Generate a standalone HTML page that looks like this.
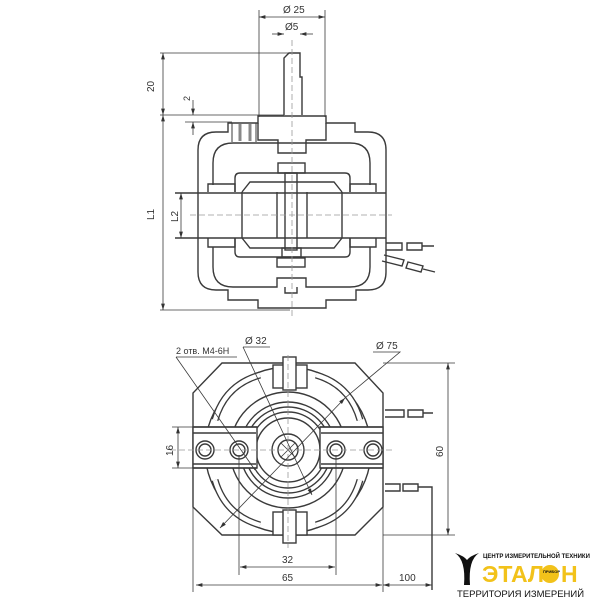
<!DOCTYPE html>
<html><head><meta charset="utf-8"><style>
html,body{margin:0;padding:0;background:#fff;width:600px;height:600px;overflow:hidden}
svg{display:block}
text{font-family:"Liberation Sans",sans-serif;fill:#333}
</style></head><body>
<svg width="600" height="600" viewBox="0 0 600 600">
<defs>
<marker id="a" viewBox="0 0 10 6" refX="10" refY="3" markerWidth="8" markerHeight="5" orient="auto-start-reverse"><path d="M0,0 L10,3 L0,6z" fill="#333"/></marker>
</defs>
<g fill="none" stroke="#3a3a3a" stroke-width="1.4">
<!-- TOP VIEW -->
<path d="M284,115 V58 L289,53 H300 V77 H302 V115"/>
<path d="M198,150 Q198,132 216,132 H228 V123 H258 V116 H326 V123 H355 V132 H368 Q386,132 386,150 V272 Q386,290 368,290 H356 V300 H326 V308 H258 V300 H228 V290 H216 Q198,290 198,272 Z"/>
<path d="M258,123 V140 H278 V153 H306 V140 H326 V123"/>
<path d="M232,123 V142 M256,123 V142" stroke-width="1"/>
<path d="M240,124 V141 M250,124 V141" stroke="#888" stroke-width="3"/>
<path d="M213,185 V163 Q213,143 233,143 H350 Q370,143 370,163 V185"/>
<path d="M213,247 V267 Q213,287 233,287 H277 V278 H306 V287 H350 Q370,287 370,267 V247"/>
<path d="M285,287 V293 H297 V287"/>
<path d="M208,192 V184 H235 V192 M350,192 V184 H376 V192"/>
<path d="M208,238 V247 H235 V238 M350,238 V247 H376 V238"/>
<path d="M235,192 V178 Q235,173 240,173 H345 Q350,173 350,178 V192"/>
<path d="M235,238 V252 Q235,257 240,257 H345 Q350,257 350,252 V238"/>
<path d="M242,192 L250,182 H334 L342,192 M242,238 L250,248 H334 L342,238"/>
<path d="M242,192 V238 M342,192 V238"/>
<path d="M175,193 H386 M175,238 H386"/>
<path d="M277,192 V238 M307,192 V238"/>
<rect x="278" y="163" width="27" height="10"/>
<rect x="285" y="173" width="12" height="77"/>
<rect x="282" y="248" width="19" height="9"/>
<rect x="277" y="258" width="28" height="9"/>
<path d="M386,243 H402 V250 H386 M407,243 H422 V250 H407 Z M422,246 H434"/>
<path d="M384,255 L404,260 L402,266 L382,261 M408,262 L423,266 L421,272 L406,268 Z M423,269 L435,272"/>
<g stroke-width="0.8">
<path d="M259,10 V117 M325,10 V117"/>
<path d="M259,17 H325" marker-start="url(#a)" marker-end="url(#a)"/>
<path d="M272,34 H284" marker-end="url(#a)"/><path d="M313,34 H300" marker-end="url(#a)"/>
<path d="M160,53 H289 M160,115 H284 M185,122 H232"/>
<path d="M163,53 V115" marker-start="url(#a)" marker-end="url(#a)"/>
<path d="M193,100 V115" marker-end="url(#a)"/><path d="M193,135 V122" marker-end="url(#a)"/>
<path d="M163,115 V310" marker-start="url(#a)" marker-end="url(#a)"/>
<path d="M160,310 H290"/>
<path d="M181,193 V238" marker-start="url(#a)" marker-end="url(#a)"/>
<path d="M292,40 V318 M190,215 H392" stroke-dasharray="6,3" stroke="#999"/>
</g>

<!-- BOTTOM VIEW -->
<path d="M222,363 H355 L383,393 V507 L355,535 H222 L193,507 V393 Z"/>
<circle cx="288" cy="450" r="83"/>
<circle cx="288" cy="450" r="58"/>
<circle cx="288" cy="450" r="48"/>
<circle cx="288" cy="450" r="43"/>
<circle cx="288" cy="450" r="38"/>
<circle cx="288" cy="450" r="32" fill="#fff"/>
<circle cx="288" cy="450" r="16"/>
<circle cx="288" cy="450" r="10"/>
<path d="M281,443 L295,457 M295,443 L281,457" stroke-width="0.8"/>
<path d="M215,420 Q225,385 260,375 M360,420 Q350,385 316,375 M215,480 Q225,515 260,525 M360,480 Q350,515 316,525" stroke-width="7" stroke="#3a3a3a"/>
<path d="M215,420 Q225,385 260,375 M360,420 Q350,385 316,375 M215,480 Q225,515 260,525 M360,480 Q350,515 316,525" stroke-width="4.4" stroke="#fff"/>
<rect x="193" y="427" width="64" height="41" fill="#fff"/>
<rect x="320" y="427" width="63" height="41" fill="#fff"/>
<path d="M193,427 H257 M193,468 H257 M320,427 H383 M320,468 H383 M193,433 H256 M193,464 H256 M321,433 H383 M321,464 H383"/>
<circle cx="205" cy="450" r="9"/><circle cx="205" cy="450" r="6"/>
<circle cx="239" cy="450" r="9"/><circle cx="239" cy="450" r="6"/>
<circle cx="336" cy="450" r="9"/><circle cx="336" cy="450" r="6"/>
<circle cx="373" cy="450" r="9"/><circle cx="373" cy="450" r="6"/>
<rect x="273" y="365" width="34" height="23" fill="#fff"/>
<rect x="283" y="357" width="13" height="33" fill="#fff"/>
<rect x="273" y="512" width="34" height="23" fill="#fff"/>
<rect x="283" y="510" width="13" height="33" fill="#fff"/>
<path d="M385,410 H404 V417 H385 M408,410 H423 V417 H408 Z M423,413 H433"/>
<path d="M385,484 H400 V491 H385 M403,484 H418 V491 H403 Z M418,487 H432 V590"/>
<g stroke-width="0.8">
<path d="M288,355 V548 M170,450 H395" stroke-dasharray="6,3" stroke="#999"/>
<path d="M172,427 H196 M172,468 H196"/>
<path d="M178,427 V468" marker-start="url(#a)" marker-end="url(#a)"/>
<path d="M383,363 H455 M383,535 H455"/>
<path d="M448,363 V535" marker-start="url(#a)" marker-end="url(#a)"/>
<path d="M239,455 V575 M336,455 V575"/>
<path d="M240,567 H335" marker-start="url(#a)" marker-end="url(#a)"/>
<path d="M193,505 V592 M383,470 V592"/>
<path d="M196,585 H382" marker-start="url(#a)" marker-end="url(#a)"/>
<path d="M383,585 H432" marker-start="url(#a)" marker-end="url(#a)"/>
<path d="M176,357 H237 M176,357 L255,470"/>
<path d="M243,347 H270 M243,347 L312,495" marker-end="url(#a)"/>
<path d="M373,352 H400 L345,398"/>
<path d="M345,398 L220,528" marker-start="url(#a)" marker-end="url(#a)"/>
</g>
</g>
<text x="283" y="13" font-size="10">Ø 25</text>
<text x="285" y="30" font-size="10">Ø5</text>
<text transform="translate(154,92) rotate(-90)" font-size="10">20</text>
<text transform="translate(190,101) rotate(-90)" font-size="9">2</text>
<text transform="translate(154,220) rotate(-90)" font-size="10">L1</text>
<text transform="translate(178,222) rotate(-90)" font-size="10">L2</text>
<text x="176" y="354" font-size="9">2 отв. M4-6H</text>
<text x="245" y="344" font-size="10">Ø 32</text>
<text x="376" y="349" font-size="10">Ø 75</text>
<text transform="translate(173,456) rotate(-90)" font-size="10">16</text>
<text transform="translate(443,457) rotate(-90)" font-size="10">60</text>
<text x="282" y="563" font-size="10">32</text>
<text x="282" y="581" font-size="10">65</text>
<text x="399" y="581" font-size="10">100</text>
<path d="M455,553 Q466,560 464,585 H470 Q468,560 479,553 Q470,556 467,560 Q464,556 455,553Z" fill="#111"/>
<text x="483" y="558" font-size="6" font-weight="bold" style="fill:#111">ЦЕНТР ИЗМЕРИТЕЛЬНОЙ ТЕХНИКИ</text>
<text x="482" y="582" font-size="23" font-weight="bold" style="fill:#f2c21a">ЭТАЛ</text>
<circle cx="550" cy="574" r="9" fill="#f2c21a"/>
<text x="543" y="573" font-size="4" font-weight="bold" style="fill:#111">ПРИБОР</text>
<text x="561" y="582" font-size="23" font-weight="bold" style="fill:#f2c21a">Н</text>
<text x="457" y="597" font-size="9.5" style="fill:#111">ТЕРРИТОРИЯ ИЗМЕРЕНИЙ</text>
</svg>
</body></html>
